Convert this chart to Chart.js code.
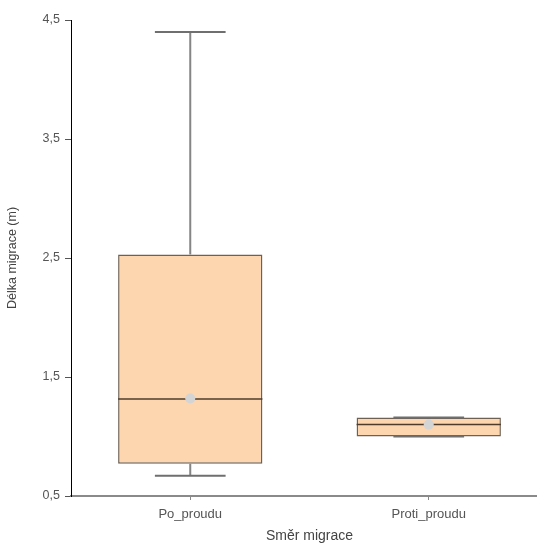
<!DOCTYPE html>
<html lang="cs">
<head>
  <meta charset="UTF-8">
  <title>Délka migrace</title>
  <style>
    html, body {
      margin: 0;
      padding: 0;
      background: #ffffff;
      overflow: hidden;
    }
    #boxChart {
      position: absolute;
      left: 0;
      top: 0;
    }
  </style>
</head>
<body>
  <canvas id="boxChart" width="553" height="545"></canvas>

  <script src="https://cdn.jsdelivr.net/npm/chart.js"></script>
  <script>
    // Box plot values
    const categories = ['Po_proudu', 'Proti_proudu'];
    const minValues = [0.67, 1.00];
    const q1Values = [0.77, 1.00];
    const medianValues = [1.315, 1.10];
    const q3Values = [2.53, 1.16];
    const maxValues = [4.40, 1.16];
    const meanValues = [1.32, 1.10];
    const yTicks = [0.5, 1.5, 2.5, 3.5, 4.5];

    const fmt = v => v.toFixed(1).replace('.', ',');

    // whiskers, caps and medians, drawn right after the boxes
    const boxPlotExtras = {
      id: 'boxPlotExtras',
      afterDatasetDraw(chart, args) {
        if (args.index !== 0) return;
        const ctx = chart.ctx;
        const y = chart.scales.y;
        const bars = args.meta.data;
        ctx.save();
        bars.forEach((bar, i) => {
          const cx = bar.x;
          const half = bar.width / 2;
          const capHalf = bar.width * 0.245;
          const yMin = y.getPixelForValue(minValues[i]);
          const yQ1 = y.getPixelForValue(q1Values[i]);
          const yQ3 = y.getPixelForValue(q3Values[i]);
          const yMax = y.getPixelForValue(maxValues[i]);
          const yMed = y.getPixelForValue(medianValues[i]);

          ctx.strokeStyle = '#858585';
          ctx.lineWidth = 2;
          ctx.beginPath();
          ctx.moveTo(cx, yQ3); ctx.lineTo(cx, yMax);
          ctx.moveTo(cx, yQ1); ctx.lineTo(cx, yMin);
          ctx.stroke();

          ctx.strokeStyle = '#6f6f6f';
          ctx.beginPath();
          ctx.moveTo(cx - capHalf, yMax); ctx.lineTo(cx + capHalf, yMax);
          ctx.moveTo(cx - capHalf, yMin); ctx.lineTo(cx + capHalf, yMin);
          ctx.stroke();

          ctx.strokeStyle = '#4e3b2c';
          ctx.lineWidth = 1.5;
          ctx.beginPath();
          ctx.moveTo(cx - half, yMed); ctx.lineTo(cx + half, yMed);
          ctx.stroke();
        });
        ctx.restore();
      }
    };

    new Chart(document.getElementById('boxChart'), {
      type: 'bar',
      data: {
        labels: categories,
        datasets: [{
          label: 'Box',
          data: categories.map((c, i) => [q1Values[i], q3Values[i]]),
          backgroundColor: '#fdd5ae',
          borderColor: '#6e6154',
          borderWidth: 1.5,
          borderSkipped: false,
          categoryPercentage: 1,
          barPercentage: 0.605,
          order: 2
        }, {
          type: 'line',
          label: 'Průměr',
          data: meanValues,
          showLine: false,
          pointRadius: 5,
          pointBackgroundColor: '#d4d4d4',
          pointBorderWidth: 0,
          order: 1
        }]
      },
      plugins: [boxPlotExtras],
      options: {
        responsive: false,
        animation: false,
        layout: { padding: { top: 20, right: 0, bottom: 0, left: 0 } },
        plugins: {
          legend: { display: false },
          tooltip: { enabled: false }
        },
        scales: {
          x: {
            offset: true,
            grid: { drawOnChartArea: false, offset: false, tickLength: 4, color: '#888888' },
            border: { color: '#8a8a8a', width: 2 },
            ticks: { color: '#555555', font: { family: 'Liberation Sans', size: 13 }, padding: 7 },
            title: {
              display: true,
              text: 'Směr migrace',
              color: '#444444',
              font: { family: 'Liberation Sans', size: 14 },
              padding: { top: 4, bottom: 0 }
            },
            afterFit(scale) { scale.height = 49; }
          },
          y: {
            min: 0.5,
            max: 4.5,
            afterBuildTicks(scale) { scale.ticks = yTicks.map(v => ({ value: v })); },
            grid: { drawOnChartArea: false, tickLength: 6, color: '#555555' },
            border: { color: '#000000', width: 1 },
            ticks: {
              color: '#555555',
              font: { family: 'Liberation Sans', size: 12.5 },
              padding: 5,
              callback: v => fmt(v)
            },
            title: {
              display: true,
              text: 'Délka migrace (m)',
              color: '#444444',
              font: { family: 'Liberation Sans', size: 12.5 },
              padding: { top: 5, bottom: 4 }
            },
            afterFit(scale) { scale.width = 71; }
          }
        }
      }
    });
  </script>
</body>
</html>
